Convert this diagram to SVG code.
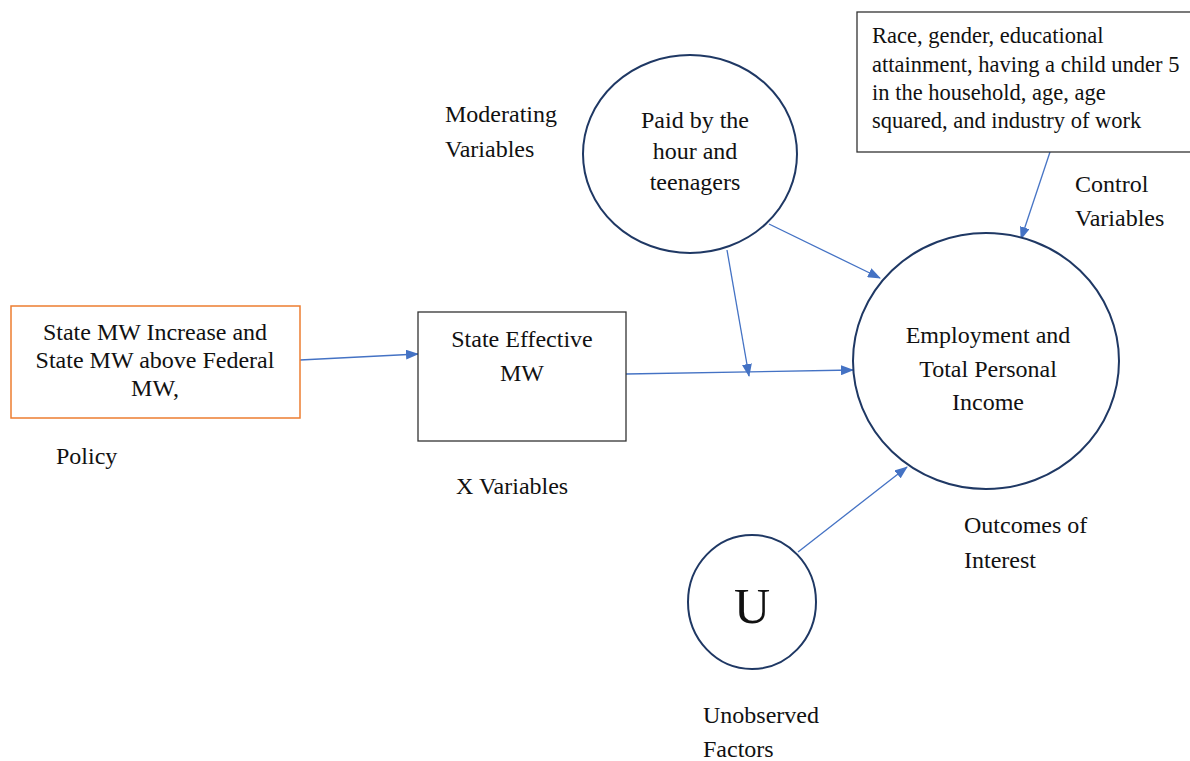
<svg xmlns="http://www.w3.org/2000/svg" width="1190" height="761" viewBox="0 0 1190 761">
<defs>
<marker id="ah" markerWidth="13" markerHeight="10" refX="12" refY="5" orient="auto" markerUnits="userSpaceOnUse">
<path d="M0,0 L13,5 L0,10 Z" fill="#4472C4"/>
</marker>
</defs>
<style>
.c{text-anchor:middle}
.circ{fill:#fff;stroke:#1F3864;stroke-width:2}
.box{fill:#fff;stroke:#333;stroke-width:1.3}
.ln{stroke:#4472C4;stroke-width:1.3;fill:none;marker-end:url(#ah)}
</style>
<rect width="1190" height="761" fill="#fff"/>
<g id="connectors">
<line class="ln" x1="300" y1="360" x2="418" y2="354"/>
<line class="ln" x1="626" y1="374" x2="853" y2="370"/>
<line class="ln" x1="727" y1="250" x2="749" y2="376"/>
<line class="ln" x1="769" y1="224" x2="880" y2="278"/>
<line class="ln" x1="1050" y1="152" x2="1021" y2="239"/>
<line class="ln" x1="798" y1="552" x2="907" y2="467"/>
</g>
<g font-family="Liberation Serif, Tinos, Times New Roman, DejaVu Serif, serif" font-size="24" fill="#111">
<g id="policy">
<rect x="11" y="306" width="289" height="112" fill="#fff" stroke="#ED7D31" stroke-width="1.5"/>
<text class="c" x="155" y="340">State MW Increase and</text>
<text class="c" x="155" y="368">State MW above Federal</text>
<text class="c" x="155" y="396">MW,</text>
<text x="56" y="464">Policy</text>
</g>
<g id="xvar">
<rect class="box" x="418" y="312" width="208" height="129"/>
<text class="c" x="522" y="347">State Effective</text>
<text class="c" x="522" y="381">MW</text>
<text x="456" y="494">X Variables</text>
</g>
<g id="moderating">
<ellipse class="circ" cx="690" cy="154" rx="107" ry="99"/>
<text class="c" x="695" y="128">Paid by the</text>
<text class="c" x="695" y="159">hour and</text>
<text class="c" x="695" y="190">teenagers</text>
<text x="445" y="122">Moderating</text>
<text x="445" y="157">Variables</text>
</g>
<g id="control">
<rect class="box" x="857" y="12" width="340" height="140"/>
<g font-size="22.5">
<text x="872" y="43">Race, gender, educational</text>
<text x="872" y="72">attainment, having a child under 5</text>
<text x="872" y="100">in the household, age, age</text>
<text x="872" y="128">squared, and industry of work</text>
</g>
<text x="1075" y="192">Control</text>
<text x="1075" y="226">Variables</text>
</g>
<g id="outcome">
<ellipse class="circ" cx="986" cy="361" rx="133" ry="128"/>
<text class="c" x="988" y="343">Employment and</text>
<text class="c" x="988" y="377">Total Personal</text>
<text class="c" x="988" y="410">Income</text>
<text x="964" y="533">Outcomes of</text>
<text x="964" y="568">Interest</text>
</g>
<g id="unobserved">
<ellipse class="circ" cx="752" cy="602" rx="64" ry="67"/>
<text class="c" x="752" y="623" font-size="50">U</text>
<text x="703" y="723">Unobserved</text>
<text x="703" y="757">Factors</text>
</g>
</g>
</svg>
